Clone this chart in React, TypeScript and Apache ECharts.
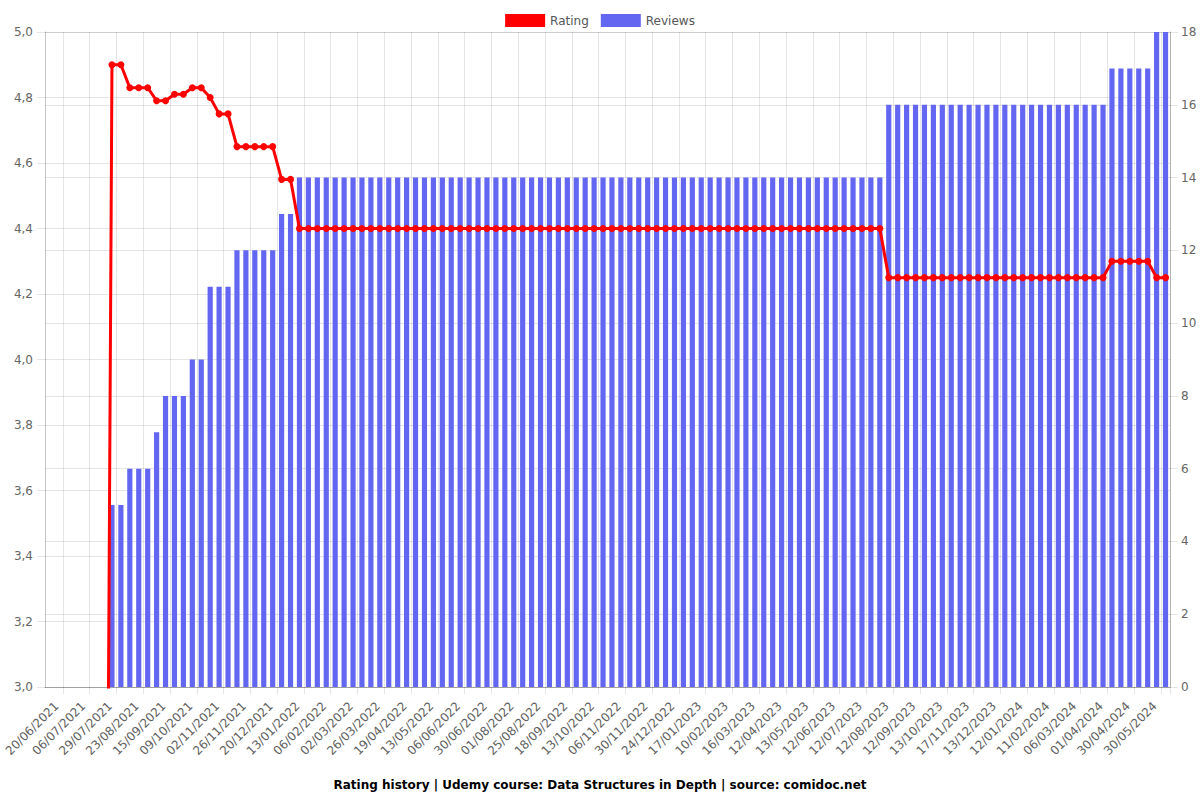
import React, { useEffect, useRef } from "react";
import * as echarts from "echarts";

const dates: string[] = [
  "20/06/2021", "26/06/2021", "01/07/2021", "06/07/2021", "14/07/2021", "21/07/2021",
  "29/07/2021", "06/08/2021", "15/08/2021", "23/08/2021", "31/08/2021", "07/09/2021",
  "15/09/2021", "23/09/2021", "01/10/2021", "09/10/2021", "17/10/2021", "25/10/2021",
  "02/11/2021", "10/11/2021", "18/11/2021", "26/11/2021", "04/12/2021", "12/12/2021",
  "20/12/2021", "28/12/2021", "05/01/2022", "13/01/2022", "21/01/2022", "29/01/2022",
  "06/02/2022", "14/02/2022", "22/02/2022", "02/03/2022", "10/03/2022", "18/03/2022",
  "26/03/2022", "03/04/2022", "11/04/2022", "19/04/2022", "27/04/2022", "05/05/2022",
  "13/05/2022", "21/05/2022", "29/05/2022", "06/06/2022", "14/06/2022", "22/06/2022",
  "30/06/2022", "11/07/2022", "21/07/2022", "01/08/2022", "09/08/2022", "17/08/2022",
  "25/08/2022", "02/09/2022", "10/09/2022", "18/09/2022", "26/09/2022", "05/10/2022",
  "13/10/2022", "21/10/2022", "29/10/2022", "06/11/2022", "14/11/2022", "22/11/2022",
  "30/11/2022", "08/12/2022", "16/12/2022", "24/12/2022", "01/01/2023", "09/01/2023",
  "17/01/2023", "25/01/2023", "02/02/2023", "10/02/2023", "21/02/2023", "05/03/2023",
  "16/03/2023", "25/03/2023", "03/04/2023", "12/04/2023", "22/04/2023", "03/05/2023",
  "13/05/2023", "23/05/2023", "02/06/2023", "12/06/2023", "22/06/2023", "02/07/2023",
  "12/07/2023", "22/07/2023", "01/08/2023", "12/08/2023", "22/08/2023", "01/09/2023",
  "12/09/2023", "22/09/2023", "02/10/2023", "13/10/2023", "25/10/2023", "05/11/2023",
  "17/11/2023", "25/11/2023", "04/12/2023", "13/12/2023", "23/12/2023", "02/01/2024",
  "12/01/2024", "22/01/2024", "01/02/2024", "11/02/2024", "19/02/2024", "27/02/2024",
  "06/03/2024", "15/03/2024", "23/03/2024", "01/04/2024", "11/04/2024", "21/04/2024",
  "30/04/2024", "10/05/2024", "20/05/2024", "30/05/2024", "09/06/2024", "19/06/2024",
];

const rating: number[] = [
  0, 0, 0, 0, 0, 0, 0,
  4.9, 4.9, 4.83, 4.83, 4.83, 4.79, 4.79, 4.81, 4.81, 4.83, 4.83, 4.8, 4.75, 4.75,
  4.65, 4.65, 4.65, 4.65, 4.65, 4.55, 4.55,
  4.4, 4.4, 4.4, 4.4, 4.4, 4.4, 4.4, 4.4, 4.4, 4.4, 4.4, 4.4, 4.4, 4.4, 4.4, 4.4, 4.4,
  4.4, 4.4, 4.4, 4.4, 4.4, 4.4, 4.4, 4.4, 4.4, 4.4, 4.4, 4.4, 4.4, 4.4, 4.4, 4.4, 4.4,
  4.4, 4.4, 4.4, 4.4, 4.4, 4.4, 4.4, 4.4, 4.4, 4.4, 4.4, 4.4, 4.4, 4.4, 4.4, 4.4, 4.4,
  4.4, 4.4, 4.4, 4.4, 4.4, 4.4, 4.4, 4.4, 4.4, 4.4, 4.4, 4.4, 4.4, 4.4, 4.4,
  4.25, 4.25, 4.25, 4.25, 4.25, 4.25, 4.25, 4.25, 4.25, 4.25, 4.25, 4.25, 4.25,
  4.25, 4.25, 4.25, 4.25, 4.25, 4.25, 4.25, 4.25, 4.25, 4.25, 4.25, 4.25,
  4.3, 4.3, 4.3, 4.3, 4.3,
  4.25, 4.25,
];

const reviews: number[] = [
  0, 0, 0, 0, 0, 0, 0,
  5, 5, 6, 6, 6, 7, 8, 8, 8, 9, 9, 11, 11, 11,
  12, 12, 12, 12, 12, 13, 13,
  14, 14, 14, 14, 14, 14, 14, 14, 14, 14, 14, 14, 14, 14, 14, 14, 14,
  14, 14, 14, 14, 14, 14, 14, 14, 14, 14, 14, 14, 14, 14, 14, 14, 14,
  14, 14, 14, 14, 14, 14, 14, 14, 14, 14, 14, 14, 14, 14, 14, 14, 14,
  14, 14, 14, 14, 14, 14, 14, 14, 14, 14, 14, 14, 14, 14, 14,
  16, 16, 16, 16, 16, 16, 16, 16, 16, 16, 16, 16, 16,
  16, 16, 16, 16, 16, 16, 16, 16, 16, 16, 16, 16,
  17, 17, 17, 17, 17,
  18, 18,
];

const titleText =
  "Rating history | Udemy course: Data Structures in Depth | source: comidoc.net";

const FONT = "DejaVu Sans";
const GRID = "rgba(0,0,0,0.1)";
const AXIS = "rgba(0,0,0,0.22)";

export default function App() {
  const ref = useRef<HTMLDivElement>(null);

  useEffect(() => {
    document.body.style.margin = "0";
    if (!ref.current) return;
    const chart = echarts.init(ref.current, undefined, { renderer: "svg" });
    const gridLineInterval = (index: number) => index % 3 === 2;
    chart.setOption({
      animation: false,
      backgroundColor: "#ffffff",
      textStyle: { fontFamily: FONT },
      title: {
        text: titleText,
        left: "center",
        top: 774,
        textStyle: { fontFamily: FONT, fontSize: 12, fontWeight: "bold", color: "#000" },
      },
      legend: {
        top: 9,
        left: "center",
        icon: "rect",
        itemWidth: 40,
        itemHeight: 13,
        itemGap: 12,
        data: ["Rating", "Reviews"],
        textStyle: { fontFamily: FONT, fontSize: 12, color: "#555" },
      },
      grid: { left: 45, right: 30, top: 32, bottom: 113 },
      xAxis: {
        type: "category",
        data: dates,
        boundaryGap: true,
        axisLine: { show: true, lineStyle: { color: AXIS, width: 1 } },
        axisTick: {
          show: true,
          interval: gridLineInterval,
          length: 7,
          lineStyle: { color: GRID },
        },
        splitLine: {
          show: true,
          interval: gridLineInterval,
          lineStyle: { color: GRID, width: 1 },
        },
        axisLabel: {
          interval: 2,
          rotate: 45,
          margin: 10,
          verticalAlign: "top",
          padding: [4, 0, 0, 0],
          color: "#5f5f5f",
          fontSize: 12,
          fontFamily: FONT,
        },
      },
      yAxis: [
        {
          type: "value",
          position: "left",
          min: 3,
          max: 5,
          interval: 0.2,
          axisLine: { show: true, lineStyle: { color: AXIS } },
          axisTick: { show: true, length: 8, lineStyle: { color: GRID } },
          splitLine: { show: true, lineStyle: { color: GRID } },
          axisLabel: {
            color: "#666",
            fontSize: 12,
            fontFamily: FONT,
            margin: 12,
            formatter: (v: number) => v.toFixed(1).replace(".", ","),
          },
        },
        {
          type: "value",
          position: "right",
          min: 0,
          max: 18,
          interval: 2,
          axisLine: { show: true, lineStyle: { color: AXIS } },
          axisTick: { show: true, length: 8, lineStyle: { color: GRID } },
          splitLine: { show: true, lineStyle: { color: GRID } },
          axisLabel: { color: "#666", fontSize: 12, fontFamily: FONT, margin: 11 },
        },
      ],
      series: [
        {
          name: "Reviews",
          type: "bar",
          yAxisIndex: 1,
          data: reviews,
          barWidth: "58%",
          itemStyle: { color: "#6366f1" },
          z: 2,
        },
        {
          name: "Rating",
          type: "line",
          yAxisIndex: 0,
          data: rating,
          clip: true,
          symbol: "circle",
          symbolSize: 7,
          showAllSymbol: true,
          lineStyle: { color: "#ff0000", width: 3 },
          itemStyle: { color: "#ff0000" },
          z: 3,
        },
      ],
    });
    return () => chart.dispose();
  }, []);

  return <div ref={ref} style={{ width: 1200, height: 800 }} />;
}
